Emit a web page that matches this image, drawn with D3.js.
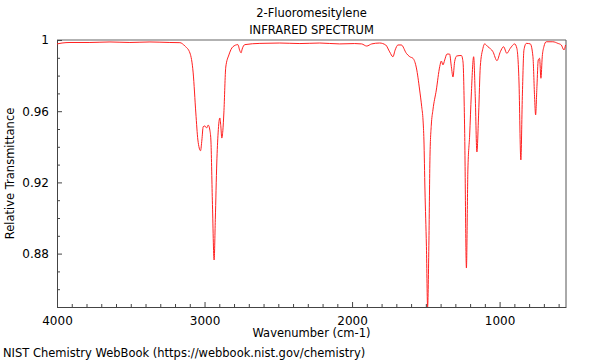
<!DOCTYPE html>
<html><head><meta charset="utf-8">
<script src="https://cdn.jsdelivr.net/npm/d3@7"></script>
<style>body{margin:0;background:#fff}svg{display:block}text{font-family:"DejaVu Sans",sans-serif;fill:#000}</style>
</head><body><svg id="c" width="600" height="360"></svg>
<script>
const title = "2-Fluoromesitylene";
const subtitle = "INFRARED SPECTRUM";
const xLabel = "Wavenumber (cm-1)";
const yLabel = "Relative Transmittance";
const footer = "NIST Chemistry WebBook (https://webbook.nist.gov/chemistry)";
const xMajorTicks = [4000, 3000, 2000, 1000];
const yMajorTicks = [0.88, 0.92, 0.96, 1];
const wavenumbers = [4000,3966,3912,3777,3641,3506,3370,3235,3167,3133,3099,3077,3059,3045,3027,3018,3009,2998,2986,2975,2964,2957,2947,2935,2927,2917,2908,2896,2890,2883,2876,2869,2856,2835,2808,2774,2761,2752,2745,2727,2625,2490,2354,2219,2084,1982,1935,1901,1867,1813,1772,1745,1723,1708,1689,1666,1632,1609,1587,1564,1542,1528,1519,1513,1506,1496,1488,1479,1472,1463,1452,1429,1406,1395,1384,1372,1357,1339,1327,1316,1305,1291,1259,1248,1237,1225,1215,1203,1192,1176,1165,1154,1142,1131,1113,1102,1079,1045,1018,995,973,951,928,898,883,869,856,846,835,819,792,774,763,756,747,738,729,720,711,700,684,639,605,582,564,553];
const transmittance = [0.9978,0.9983,0.9986,0.9986,0.9989,0.9986,0.9989,0.9986,0.9985,0.9966,0.9927,0.9815,0.959,0.9438,0.9378,0.9438,0.9513,0.9517,0.9506,0.9522,0.9494,0.9438,0.910,0.8764,0.899,0.9309,0.9478,0.9562,0.952,0.9449,0.949,0.959,0.9848,0.9916,0.9962,0.9974,0.9940,0.9928,0.9949,0.9974,0.9981,0.9983,0.998,0.9983,0.9978,0.998,0.9978,0.9966,0.9978,0.9983,0.9972,0.9933,0.9906,0.9944,0.9972,0.9972,0.9925,0.9906,0.9897,0.9843,0.9719,0.9625,0.955,0.9438,0.9157,0.8839,0.85,0.8876,0.9344,0.9522,0.9607,0.9719,0.985,0.9882,0.986,0.9888,0.9921,0.9921,0.985,0.9792,0.9878,0.991,0.9913,0.9876,0.9494,0.8719,0.927,0.9466,0.9691,0.9906,0.9681,0.9371,0.959,0.985,0.9953,0.9978,0.9962,0.9934,0.9884,0.9934,0.9962,0.9925,0.9953,0.9978,0.9953,0.9775,0.9326,0.9681,0.9944,0.9981,0.9978,0.9906,0.9681,0.9579,0.9738,0.9888,0.9897,0.9785,0.9906,0.9962,0.999,0.999,0.9981,0.9972,0.9944,0.9972];

const svg = d3.select("#c");
const L = 57, R = 566, T = 40, B = 307;
const x = d3.scaleLinear().domain([4000, 550]).range([L, R]);
const y = d3.scaleLinear().domain([0.85, 1.0]).range([B, T]);

const xMinor = d3.range(600, 4000, 100).filter(v => v % 1000 !== 0);
const yMinor = d3.range(85, 100, 1).map(v => v / 100).filter(v => !yMajorTicks.some(m => Math.abs(m - v) < 1e-9));

// frame top/right
svg.append("line").attr("x1", L).attr("x2", R).attr("y1", T).attr("y2", T).attr("stroke", "#999").attr("stroke-width", 1.5);
svg.append("line").attr("x1", R).attr("x2", R).attr("y1", T).attr("y2", B).attr("stroke", "#555").attr("stroke-width", 1);

// minor ticks
const gx = svg.append("g").attr("transform", `translate(0,${B})`);
gx.call(d3.axisBottom(x).tickValues(xMinor).tickSize(-3).tickFormat(""));
const gy = svg.append("g").attr("transform", `translate(${L},0)`);
gy.call(d3.axisLeft(y).tickValues(yMinor).tickSize(-3).tickFormat(""));

// major axes
const ax = svg.append("g").attr("transform", `translate(0,${B})`)
  .call(d3.axisBottom(x).tickValues(xMajorTicks).tickSizeInner(-5).tickSizeOuter(0).tickPadding(9).tickFormat(d3.format("d")));
const ay = svg.append("g").attr("transform", `translate(${L},0)`)
  .call(d3.axisLeft(y).tickValues(yMajorTicks).tickSizeInner(-5).tickSizeOuter(0).tickPadding(8).tickFormat(d => d === 1 ? "1" : d.toFixed(2)));
svg.selectAll(".tick text").style("font-size", "12px").style("font-family", "'DejaVu Sans', sans-serif");
svg.selectAll(".domain").attr("stroke", "#444");
svg.selectAll(".tick line").attr("stroke", "#444");
[gx, gy].forEach(g => g.select(".domain").remove());

// spectrum
const data = wavenumbers.map((w, i) => [w, transmittance[i]]);
svg.append("path").datum(data)
  .attr("fill", "none").attr("stroke", "#ff2020").attr("stroke-width", 1)
  .attr("d", d3.line().x(d => x(d[0])).y(d => y(d[1])).curve(d3.curveMonotoneX));

// texts
const cx = (L + R) / 2;
const fs = "11.5px";
svg.append("text").attr("x", cx).attr("y", 17).attr("text-anchor", "middle").style("font-size", fs).text(title);
svg.append("text").attr("x", cx).attr("y", 34).attr("text-anchor", "middle").style("font-size", fs).text(subtitle);
svg.append("text").attr("x", cx).attr("y", 337).attr("text-anchor", "middle").style("font-size", fs).text(xLabel);
svg.append("text").attr("transform", `translate(14,${(T + B) / 2}) rotate(-90)`).attr("text-anchor", "middle").style("font-size", fs).text(yLabel);
svg.append("text").attr("x", 3).attr("y", 357).style("font-size", fs).text(footer);
</script></body></html>
